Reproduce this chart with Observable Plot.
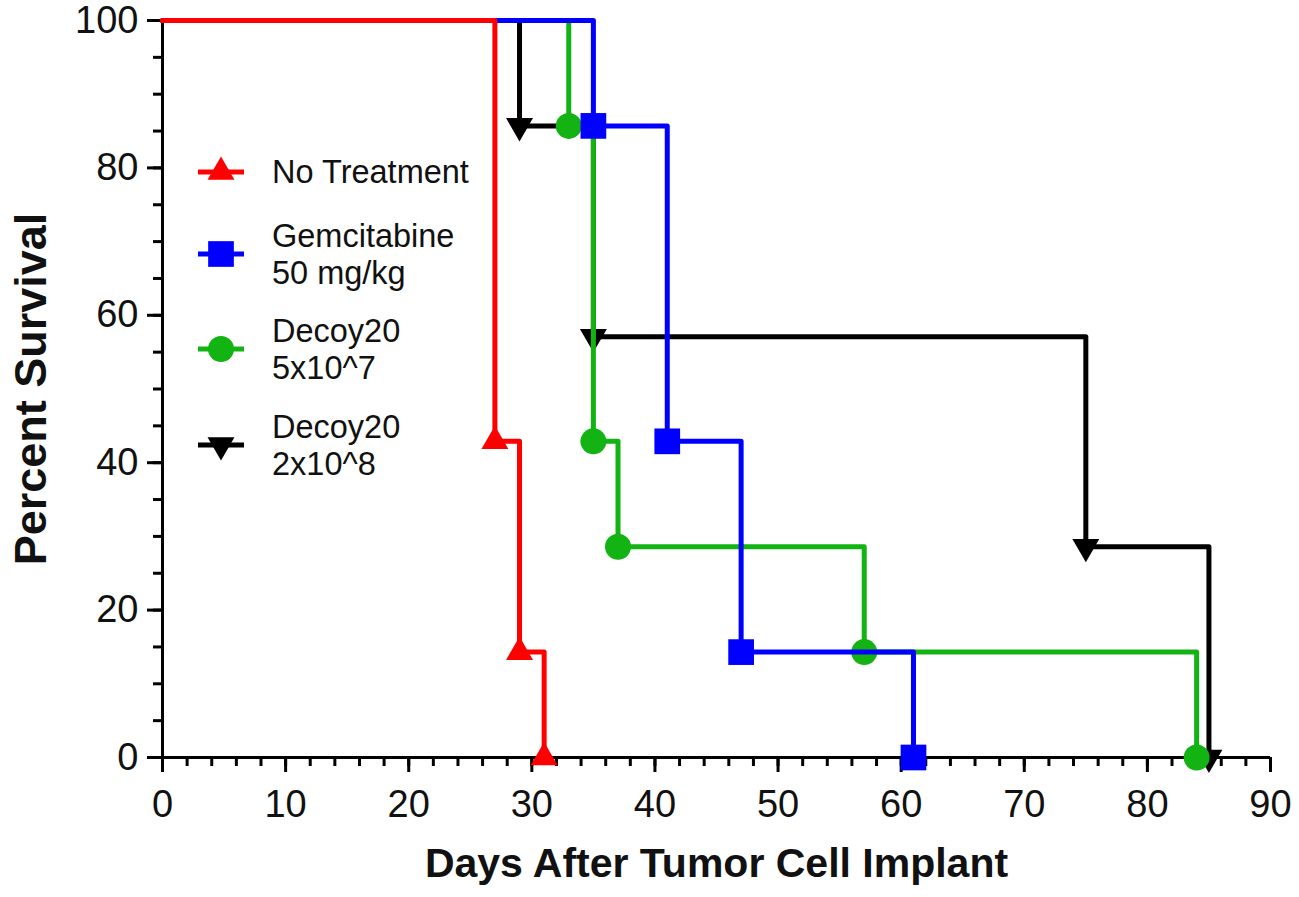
<!DOCTYPE html>
<html>
<head>
<meta charset="utf-8">
<script src="https://cdn.jsdelivr.net/npm/d3@7"></script>
<script src="https://cdn.jsdelivr.net/npm/@observablehq/plot@0.6"></script>
<style>
  html, body { margin: 0; padding: 0; background: #fff; }
  #wrap { position: relative; width: 1299px; height: 897px; }
  #legend { position: absolute; left: 0; top: 0; }
</style>
</head>
<body>
<div id="wrap"></div>
<script>
// ---- data ----
const seriesNames = ["No Treatment", "Gemcitabine\n50 mg/kg", "Decoy20\n5x10^7", "Decoy20\n2x10^8"];
const seriesColors = ["#ff0000", "#0000ff", "#12b312", "#000000"];
const seriesSymbols = ["triangle", "square", "circle", "triangle"];
const seriesRotate = [0, 0, 0, 180];

const noTreatDays = [0, 27, 29, 31];
const noTreatSurv = [100, 42.9, 14.3, 0];
const gemDays = [0, 35, 41, 47, 61];
const gemSurv = [100, 85.7, 42.9, 14.3, 0];
const decoyLowDays = [0, 33, 35, 37, 57, 84];
const decoyLowSurv = [100, 85.7, 42.9, 28.6, 14.3, 0];
const decoyHighDays = [0, 29, 35, 75, 85];
const decoyHighSurv = [100, 85.7, 57.1, 28.6, 0];

const xTicks = [0, 10, 20, 30, 40, 50, 60, 70, 80, 90];
const xMinorTicks = d3.range(0, 91, 2);
const yTicks = [0, 20, 40, 60, 80, 100];
const yMinorTicks = d3.range(0, 101, 5);

const xLabel = "Days After Tumor Cell Implant";
const yLabel = "Percent Survival";

// ---- build ----
const allDays = [noTreatDays, gemDays, decoyLowDays, decoyHighDays];
const allSurv = [noTreatSurv, gemSurv, decoyLowSurv, decoyHighSurv];
const seriesData = allDays.map((days, i) =>
  days.map((d, j) => ({series: seriesNames[i], day: d, surv: allSurv[i][j], event: j > 0}))
);
const drawOrder = [3, 2, 1, 0];
const markSizes = [10, 14.5, 13, 10];

const marks = [
  Plot.axisX({ticks: xMinorTicks, tickSize: 9, strokeWidth: 3, text: null, label: null}),
  Plot.axisX({ticks: xTicks, tickSize: 15, strokeWidth: 3, fontSize: 38, tickPadding: 18, label: null, fill: "#111"}),
  Plot.axisY({ticks: yMinorTicks, tickSize: 9, strokeWidth: 3, text: null, label: null}),
  Plot.axisY({ticks: yTicks, tickSize: 15, strokeWidth: 3, fontSize: 38, tickPadding: 9, label: null, fill: "#111"}),
  Plot.ruleY([0], {strokeWidth: 3}),
  Plot.ruleX([0], {strokeWidth: 3}),
];
for (const i of drawOrder) {
  marks.push(Plot.line(seriesData[i], {x: "day", y: "surv", stroke: seriesColors[i], strokeWidth: 5, curve: "step-after"}));
  marks.push(Plot.dot(seriesData[i].filter(d => d.event), {
    x: "day", y: "surv", fill: seriesColors[i], stroke: "none",
    symbol: seriesSymbols[i], r: markSizes[i], rotate: seriesRotate[i]
  }));
}
marks.push(Plot.text([xLabel], {frameAnchor: "bottom", dy: 106, fontSize: 41, fontWeight: "bold", lineAnchor: "middle", textAnchor: "middle", fill: "#111"}));
marks.push(Plot.text([yLabel], {frameAnchor: "left", dx: -131, rotate: -90, fontSize: 45, fontWeight: "bold", lineAnchor: "middle", textAnchor: "middle", fill: "#111"}));

const chart = Plot.plot({
  width: 1299, height: 897,
  marginLeft: 162, marginRight: 29, marginTop: 20, marginBottom: 140,
  x: {domain: [0, 90]},
  y: {domain: [0, 100]},
  style: {fontFamily: "'Liberation Sans', Arial, sans-serif", background: "white", color: "#000"},
  marks
});
document.getElementById("wrap").appendChild(chart);

// ---- legend overlay ----
const legend = d3.select("#wrap").append("svg")
  .attr("id", "legend").attr("width", 600).attr("height", 520)
  .style("font-family", "'Liberation Sans', Arial, sans-serif");
const rowY = [172, 254, 349, 445];
seriesNames.forEach((name, i) => {
  const g = legend.append("g").attr("transform", `translate(221,${rowY[i]})`);
  g.append("line").attr("x1", -23).attr("x2", 23).attr("stroke", seriesColors[i]).attr("stroke-width", 5);
  const sym = {triangle: d3.symbolTriangle, square: d3.symbolSquare, circle: d3.symbolCircle}[seriesSymbols[i]];
  g.append("path").attr("d", d3.symbol(sym, Math.PI * markSizes[i] ** 2)())
    .attr("fill", seriesColors[i]).attr("transform", `rotate(${seriesRotate[i]})`);
  const lines = name.split("\n");
  const t = g.append("text").attr("x", 51).attr("font-size", 32.5).attr("fill", "#111");
  lines.forEach((ln, k) => {
    t.append("tspan").attr("x", 51)
      .attr("y", (k - (lines.length - 1) / 2) * 37)
      .attr("dy", "0.35em").text(ln);
  });
});
</script>
</body>
</html>
